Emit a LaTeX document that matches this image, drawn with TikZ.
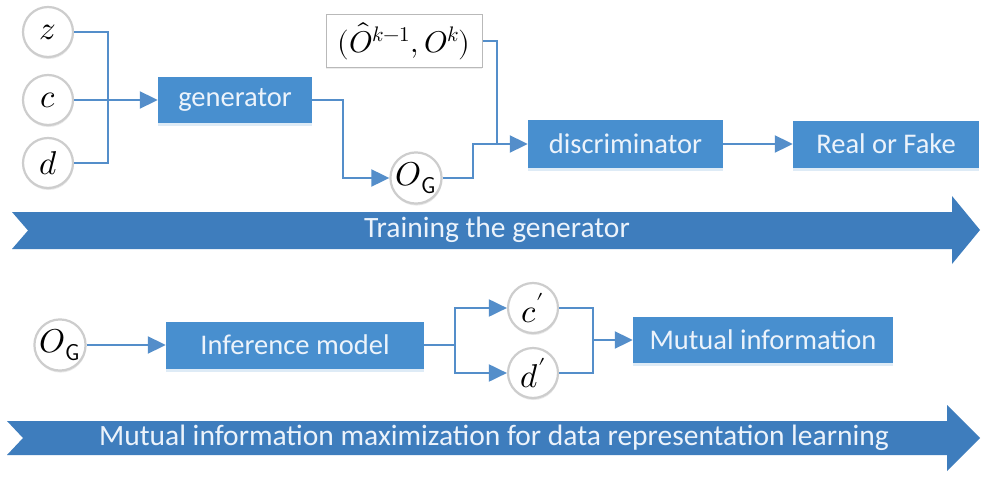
\documentclass[tikz,border=0pt]{standalone}
\usepackage{fontspec}
\usepackage{unicode-math}
\setmathfont{Latin Modern Math}
\newfontfamily\boxfont{Carlito}
\usetikzlibrary{arrows.meta,shadows,calc}
\definecolor{boxblue}{RGB}{72,143,207}
\definecolor{bandblue}{RGB}{62,125,189}
\definecolor{linkblue}{RGB}{84,142,202}
\definecolor{boxtext}{RGB}{236,243,251}
\definecolor{ringgray}{RGB}{205,205,205}
\begin{document}
\begin{tikzpicture}[x=1pt,y=-1pt,
  bluebox/.style={fill=boxblue, text=boxtext, inner sep=0pt,
    font=\boxfont\fontsize{28.5}{32}\selectfont,
    drop shadow={shadow xshift=0pt, shadow yshift=-3pt, fill=boxblue!35, opacity=0.5}},
  varnode/.style={circle, fill=white, draw=ringgray, line width=2.2pt,
    minimum size=50pt, inner sep=0pt, font=\fontsize{33}{36}\selectfont,
    drop shadow={shadow xshift=0.5pt, shadow yshift=-2pt, fill=gray, opacity=0.18}},
  pairbox/.style={fill=white, draw=gray!55, line width=1pt, inner sep=0pt,
    minimum width=156pt, minimum height=53pt, font=\fontsize{30}{34}\selectfont,
    drop shadow={shadow xshift=0pt, shadow yshift=-2pt, fill=gray, opacity=0.15}},
  link/.style={draw=linkblue, line width=2pt},
  arrowed/.style={link, -{Triangle[length=18pt,width=17pt]}},
  bandtext/.style={text=boxtext, font=\boxfont\fontsize{29.5}{33}\selectfont, inner sep=0pt}
]
\useasboundingbox[fill=white] (0,0) rectangle (981,476);

% ---------- training the generator ----------
\node[varnode] (z) at (48,32) {$z$};
\node[varnode] (c) at (48,100) {$c$};
\node[varnode] (d) at (48,163) {$d$};
\node[bluebox, minimum width=154pt, minimum height=46pt] (gen) at (235,100) {generator};
\node[pairbox] (pair) at (404,41) {$(\hat{O}^{k-1},O^{k})$};
\node[varnode] (og) at (416,178) {$O_{\mathsf{G}}$};
\node[bluebox, minimum width=195pt, minimum height=48pt] (disc) at (625.5,144) {discriminator};
\node[bluebox, minimum width=186pt, minimum height=47pt] (rf) at (886,144) {Real or Fake};

\coordinate (bus) at (108,100);
\coordinate (merge) at (497,144);

\draw[link] (z.east) -| (bus);
\draw[link] (d.east) -| (bus);
\draw[arrowed] (c.east) -- (gen.west);
\draw[arrowed] (gen.east) -- ++(31,0) |- (og.west);
\draw[arrowed] (og.east) -- ++(30,0) |- (disc.west);
\draw[link] (pair.east) -| (merge);
\draw[arrowed] (disc.east) -- (rf.west);

% band arrow with notched tail
\fill[bandblue] (12,212) -- (952,212) -- (952,196) -- (980,230) -- (952,264)
  -- (952,249) -- (12,249) -- (28,230.5) -- cycle;
\node[bandtext] (band1) at (497,230) {Training the generator};

% ---------- mutual information maximization ----------
\node[varnode] (og2) at (60,345) {$O_{\mathsf{G}}$};
\node[bluebox, minimum width=258pt, minimum height=47pt] (inf) at (295,345) {Inference model};
\node[varnode] (cp) at (533,308) {$c'$};
\node[varnode] (dp) at (533,373) {$d'$};
\node[bluebox, minimum width=260pt, minimum height=46pt] (mi) at (763,340) {Mutual information};

\coordinate (split) at (455,345);
\coordinate (join) at (593,340);

\draw[arrowed] (og2.east) -- (inf.west);
\draw[link] (inf.east) -- (split);
\draw[arrowed] (split) |- (cp.west);
\draw[arrowed] (split) |- (dp.west);
\draw[link] (cp.east) -| (join);
\draw[link] (dp.east) -| (join);
\draw[arrowed] (join) -- (mi.west);

\fill[bandblue] (7,421) -- (947,421) -- (947,405) -- (980,438) -- (947,471)
  -- (947,455) -- (7,455) -- (23,438) -- cycle;
\node[bandtext] (band2) at (494,438) {Mutual information maximization for data representation learning};
\end{tikzpicture}
\end{document}
